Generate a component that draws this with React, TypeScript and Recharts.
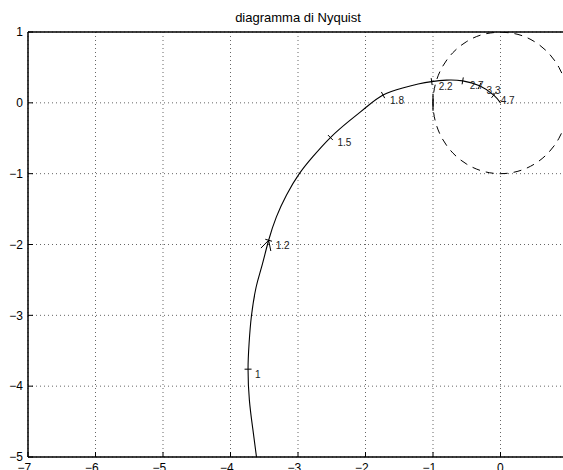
import { ScatterChart, Scatter, XAxis, YAxis, CartesianGrid, ReferenceLine } from "recharts";

// Nyquist locus, read along the curve from low to high frequency
const CURVE_X = [-3.615, -3.67, -3.72, -3.74, -3.725, -3.69, -3.62, -3.54, -3.435, -3.32, -3.17, -2.98, -2.78, -2.52, -2.24, -2.0, -1.74, -1.45, -1.22, -1.02, -0.8, -0.56, -0.31, -0.1, 0];
const CURVE_Y = [-5.0, -4.6, -4.2, -3.76, -3.4, -3.01, -2.6, -2.32, -1.94, -1.61, -1.3, -1.0, -0.76, -0.49, -0.255, -0.07, 0.11, 0.21, 0.265, 0.3, 0.32, 0.31, 0.24, 0.11, 0];
// frequency annotations on the curve (null = plain point)
const CURVE_W: (number | null)[] = [null, null, null, 1, null, null, null, null, 1.2, null, null, null, null, 1.5, null, null, 1.8, null, null, 2.2, null, 2.7, 3.3, 4.7, null];
const ARROW_AT = 1.2;

// unit circle, 15 degree steps starting at the top
const CIRCLE_X = [0, 0.259, 0.5, 0.707, 0.866, 0.966, 1, 0.966, 0.866, 0.707, 0.5, 0.259, 0, -0.259, -0.5, -0.707, -0.866, -0.966, -1, -0.966, -0.866, -0.707, -0.5, -0.259, 0];
const CIRCLE_Y = [1, 0.966, 0.866, 0.707, 0.5, 0.259, 0, -0.259, -0.5, -0.707, -0.866, -0.966, -1, -0.966, -0.866, -0.707, -0.5, -0.259, 0, 0.259, 0.5, 0.707, 0.866, 0.966, 1];

// short marker through the critical point
const CRIT_X = [-1, -1];
const CRIT_Y = [0.13, -0.11];

const X_TICKS = [-7, -6, -5, -4, -3, -2, -1, 0, 1];
const Y_TICKS = [-5, -4, -3, -2, -1, 0, 1];

const W = 620;
const H = 500;
const M = { top: 32, right: 52, bottom: 13, left: 0 };
const Y_W = 28;
const X_H = 30;
const PLOT_W = W - M.left - M.right - Y_W;
const PLOT_H = H - M.top - M.bottom - X_H;
const KX = PLOT_W / (X_TICKS[X_TICKS.length - 1] - X_TICKS[0]);
const KY = PLOT_H / (Y_TICKS[Y_TICKS.length - 1] - Y_TICKS[0]);

const FONT = "'Liberation Sans', Arial, Helvetica, sans-serif";

const zip = (xs: number[], ys: number[]) => xs.map((x, i) => ({ x, y: ys[i] }));

const curve = zip(CURVE_X, CURVE_Y);
const circle = zip(CIRCLE_X, CIRCLE_Y);
const crit = zip(CRIT_X, CRIT_Y);

// labelled points with the screen-space tangent of the curve
const marks = CURVE_W.map((w, i) => {
  if (w == null) return null;
  const a = curve[Math.max(i - 1, 0)];
  const b = curve[Math.min(i + 1, curve.length - 1)];
  const dx = (b.x - a.x) * KX;
  const dy = -(b.y - a.y) * KY;
  const len = Math.hypot(dx, dy) || 1;
  return { x: curve[i].x, y: curve[i].y, w, tx: dx / len, ty: dy / len };
}).filter(Boolean) as { x: number; y: number; w: number; tx: number; ty: number }[];

const fmt = (v: number) => String(v).replace("-", "\u2212");

const NoDot = () => <g />;

function Mark(props: any) {
  const { cx, cy, payload } = props;
  const { tx, ty, w } = payload;
  const h = 3.5;
  const nx = -ty;
  const ny = tx;
  const parts = [
    <line key="t" x1={cx - nx * h} y1={cy - ny * h} x2={cx + nx * h} y2={cy + ny * h} stroke="#000" strokeWidth={1} />,
  ];
  if (w === ARROW_AT) {
    const L = 11;
    const ang = (28 * Math.PI) / 180;
    [ang, -ang].forEach((t, k) => {
      const bx = -tx * Math.cos(t) + ty * Math.sin(t);
      const by = -ty * Math.cos(t) - tx * Math.sin(t);
      parts.push(<line key={"a" + k} x1={cx} y1={cy} x2={cx + bx * L} y2={cy + by * L} stroke="#000" strokeWidth={1} />);
    });
  }
  return (
    <g>
      {parts}
      <text x={cx + 7} y={cy + 8.5} fontSize={10} fontFamily={FONT} fill="#222">
        {w}
      </text>
    </g>
  );
}

function XTick(props: any) {
  const { x, y, payload } = props;
  const axisY = y - 6;
  return (
    <g>
      <line x1={x} y1={axisY} x2={x} y2={axisY - 5} stroke="#000" />
      <text x={x + 3.3} y={y} dy="0.71em" textAnchor="end" fontSize={12} fontFamily={FONT} fill="#000">
        {fmt(payload.value)}
      </text>
    </g>
  );
}

function YTick(props: any) {
  const { x, y, payload } = props;
  const axisX = x + 5;
  return (
    <g>
      <line x1={axisX} y1={y} x2={axisX + 5} y2={y} stroke="#000" />
      <text x={x} y={y} dy="0.355em" textAnchor="end" fontSize={12} fontFamily={FONT} fill="#000">
        {fmt(payload.value)}
      </text>
    </g>
  );
}

export default function App() {
  return (
    <div style={{ position: "fixed", left: 0, top: 0, width: 563, height: 470, overflow: "hidden", background: "#fff" }}>
      <div
        style={{
          position: "absolute",
          left: Y_W,
          top: 10,
          width: PLOT_W,
          textAlign: "center",
          fontFamily: FONT,
          fontSize: 13,
          lineHeight: "16px",
          color: "#000",
        }}
      >
        diagramma di Nyquist
      </div>
      <ScatterChart width={W} height={H} margin={M}>
        <CartesianGrid stroke="#666" strokeDasharray="1 3" />
        <XAxis
          type="number"
          dataKey="x"
          domain={[-7, 1]}
          ticks={X_TICKS}
          allowDataOverflow
          height={X_H}
          tickSize={4}
          tickMargin={2}
          tickLine={false}
          axisLine={{ stroke: "#000", strokeWidth: 1.5 }}
          tick={<XTick />}
        />
        <YAxis
          type="number"
          dataKey="y"
          domain={[-5, 1]}
          ticks={Y_TICKS}
          allowDataOverflow
          width={Y_W}
          tickSize={3}
          tickMargin={2}
          tickLine={false}
          axisLine={{ stroke: "#000", strokeWidth: 1.5 }}
          tick={<YTick />}
        />
        <ReferenceLine y={1} stroke="#000" strokeWidth={1.5} />
        <ReferenceLine x={1} stroke="#000" strokeWidth={1.5} />
        <Scatter
          data={circle}
          fill="#000"
          line={{ stroke: "#000", strokeWidth: 1, strokeDasharray: "8 6" }}
          lineJointType="natural"
          shape={<NoDot />}
          isAnimationActive={false}
        />
        <Scatter
          data={curve}
          fill="#000"
          line={{ stroke: "#000", strokeWidth: 1.1 }}
          lineJointType="natural"
          shape={<NoDot />}
          isAnimationActive={false}
        />
        <Scatter
          data={crit}
          fill="#000"
          line={{ stroke: "#000", strokeWidth: 1.2 }}
          shape={<NoDot />}
          isAnimationActive={false}
        />
        <Scatter data={marks} fill="#000" shape={<Mark />} isAnimationActive={false} />
      </ScatterChart>
    </div>
  );
}
